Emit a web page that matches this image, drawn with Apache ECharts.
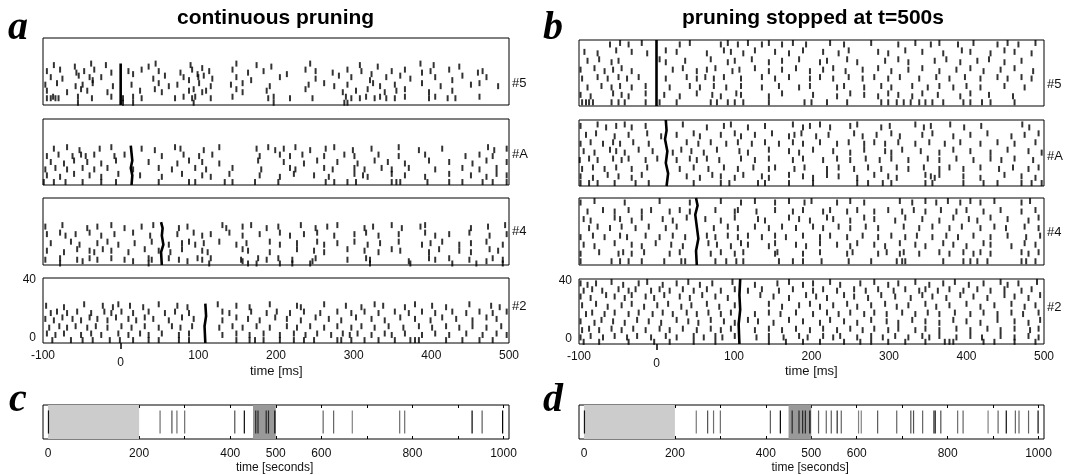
<!DOCTYPE html>
<html>
<head>
<meta charset="utf-8">
<script src="https://cdn.jsdelivr.net/npm/echarts@6/dist/echarts.min.js"></script>
<style>
  html, body { margin: 0; background: #fff; }
  #chart { width: 1065px; height: 475px; }
</style>
</head>
<body>
<div id="chart"></div>
<script>
// ---- raster data: [time (ms), trial] ----
const spikesA5 = [
  [-86,23],[-59,22],[-38,24],[-19,23],[36,22],[45,24],[90,23],[105,21],[149,24],[175,23],[194,22],[244,24],[308,23],[331,22],[386,24],[403,23],[436,22],
  [-95,19],[-78,20],[-57,18],[-47,19],[-34,20],[-12,18],[10,19],[16,17],[27,20],[49,19],[77,18],[92,20],[99,17],[114,19],[144,20],[164,18],[184,19],[214,17],[238,20],[251,19],[273,18],[292,20],[310,19],[323,17],[349,19],[366,20],[388,18],[399,19],[423,20],[460,18],[466,19],
  [-90,15],[-75,14],[-54,16],[-40,15],[-36,13],[-25,15],[42,14],[57,16],[81,15],[88,13],[100,15],[107,16],[118,14],[149,15],[168,13],[205,15],[251,14],[281,16],[297,15],[321,13],[342,15],[360,16],[373,14],[405,15],[427,13],[440,16],[471,15],
  [-97,10],[-82,11],[-58,9],[-49,10],[-36,11],[-10,9],[14,10],[49,11],[62,9],[73,10],[101,11],[116,9],[142,10],[157,11],[192,9],[242,10],[262,11],[275,9],[292,10],[325,11],[334,9],[353,10],[388,11],[412,9],[451,10],[462,11],[486,9],
  [-95,6],[-69,5],[-51,7],[-43,6],[-17,5],[25,6],[44,7],[53,5],[88,6],[94,7],[105,5],[110,6],[149,7],[157,5],[188,6],[238,7],[286,5],[303,6],[318,7],[340,5],[355,6],[366,7],[397,5],[427,6],
  [-95,1],[-90,1],[-87,2],[-84,1],[-80,1],[-55,2],[-37,1],[-12,2],[3,1],[16,2],[27,1],[70,1],[81,2],[92,1],[96,2],[116,1],[144,2],[190,1],[197,2],[218,1],[247,1],[290,2],[297,1],[308,1],[316,2],[327,1],[334,2],[342,1],[353,1],[366,2],[397,1],[405,2],[421,1],[431,1],[462,2],
  [-55,-2],[3,-2],[16,-2],[94,-2],[197,-2],[288,-2],[292,-2]
];
const spikesAA = [
  [-86,21],[-69,22],[-53,20],[-27,21],[-12,22],[27,21],[44,20],[70,22],[77,21],[107,20],[127,22],[175,21],[190,22],[199,20],[210,21],[225,22],[244,20],[264,21],[275,22],[299,20],[323,21],[358,22],[384,20],[414,21],[473,22],[481,20],[497,21],
  [-95,16],[-80,17],[-62,16],[-51,17],[-45,16],[-34,17],[-8,16],[5,17],[53,16],[81,17],[101,16],[118,17],[179,16],[205,17],[218,16],[234,17],[262,16],[288,17],[301,16],[332,17],[358,16],[392,17],[444,16],[462,17],[479,16],
  [-90,12],[-73,11],[-60,13],[-43,12],[-25,11],[-6,13],[36,12],[73,11],[88,13],[105,12],[127,11],[177,13],[210,12],[236,11],[253,13],[279,12],[305,11],[327,13],[344,12],[366,11],[397,13],[423,12],[453,11],[471,13],[497,12],
  [-97,7],[-84,8],[-69,7],[-49,8],[-34,7],[-17,8],[16,7],[49,8],[66,7],[96,8],[110,7],[144,8],[181,7],[218,8],[225,7],[262,8],[273,7],[301,8],[314,7],[336,8],[349,7],[371,8],[405,7],[440,8],[462,7],[484,8],
  [-95,3],[-78,2],[-60,4],[-40,3],[-25,2],[-3,4],[25,3],[53,2],[79,4],[105,3],[116,2],[140,4],[179,3],[205,2],[223,4],[249,3],[268,2],[301,4],[312,3],[318,2],[349,4],[366,3],[392,2],[423,4],[451,3],[471,2],[484,4],[497,3],
  [-99,-1.5],[-86,-1.5],[-71,-1.5],[-49,-1.5],[-25,-1.5],[-6,-1.5],[49,-1.5],[88,-1.5],[96,-1.5],[134,-1.5],[144,-1.5],[173,-1.5],[203,-1.5],[264,-1.5],[275,-1.5],[292,-1.5],[303,-1.5],[349,-1.5],[355,-1.5],[360,-1.5],[395,-1.5],[423,-1.5],[440,-1.5],[466,-1.5],[479,-1.5],[497,-1.5]
];
const spikesA4 = [
  [-97,22],[-75,23],[-43,21],[-30,22],[-12,23],[5,21],[27,22],[42,23],[75,21],[86,22],[131,23],[136,21],[157,22],[168,23],[188,21],[203,22],[232,23],[251,21],[266,22],[279,23],[314,21],[325,22],[349,23],[362,21],[386,22],[392,23],[451,21],[473,22],[495,23],
  [-95,17],[-78,18],[-71,16],[-58,17],[-40,18],[-25,16],[-8,17],[16,18],[38,16],[73,17],[94,18],[105,16],[116,17],[140,18],[157,16],[179,17],[205,18],[218,16],[236,17],[253,18],[275,16],[301,17],[316,18],[332,16],[358,17],[392,18],[405,16],[423,17],[449,18],[475,16],[497,17],
  [-90,11],[-64,12],[-53,10],[-30,11],[-17,12],[-3,10],[18,11],[40,12],[62,10],[79,11],[88,12],[96,10],[107,11],[127,12],[149,10],[162,11],[192,12],[205,10],[227,11],[253,12],[262,10],[279,11],[301,12],[318,10],[334,11],[358,12],[388,10],[399,11],[414,12],[436,10],[451,11],[471,12],[492,10],
  [-95,6],[-73,5],[-56,7],[-40,6],[-34,5],[-23,7],[-12,6],[10,5],[31,7],[49,6],[64,5],[79,7],[105,6],[112,5],[157,7],[164,6],[192,5],[227,7],[249,6],[262,5],[292,7],[314,6],[332,5],[349,7],[360,6],[397,5],[410,7],[436,6],[451,5],[475,7],[486,6],
  [-97,0],[-78,1],[-56,0],[-49,-1],[-40,1],[-30,0],[-12,1],[5,0],[16,-1],[36,1],[40,0],[62,1],[75,0],[86,-1],[99,1],[105,0],[116,1],[155,0],[157,-1],[177,1],[188,0],[203,1],[221,0],[247,-1],[251,1],[292,0],[316,1],[321,0],[371,-1],[397,1],[405,0],[423,1],[449,0],[471,-1],[479,1],[492,0],
  [-78,-2.5],[36,-2.5],[114,-2.5],[164,-2.5],[175,-2.5],[205,-2.5],[221,-2.5],[244,-2.5],[321,-2.5],[373,-2.5],[427,-2.5],[458,-2.5],[492,-2.5]
];
const spikesA2 = [
  [-96,22],[-73,21],[-47,23],[-23,22],[-10,21],[-3,23],[12,22],[29,21],[49,23],[73,22],[86,21],[125,23],[149,22],[166,21],[192,23],[227,22],[232,21],[262,23],[290,22],[310,21],[327,23],[338,22],[366,21],[379,23],[401,22],[419,21],[449,23],[477,22],[488,21],
  [-90,17],[-82,18],[-69,17],[-56,18],[-38,17],[-21,18],[-12,17],[1,18],[16,17],[36,18],[57,17],[70,18],[88,17],[131,18],[140,17],[168,18],[188,17],[201,18],[218,17],[236,18],[257,17],[279,18],[297,17],[314,18],[332,17],[353,18],[371,17],[388,18],[405,17],[427,18],[445,17],[462,18],[479,17],[497,18],
  [-97,13],[-86,12],[-75,14],[-62,13],[-51,12],[-40,14],[-30,13],[-17,12],[-6,14],[10,13],[20,12],[31,14],[42,13],[62,12],[79,14],[94,13],[131,12],[149,14],[164,13],[179,12],[199,14],[214,13],[232,12],[251,14],[268,13],[284,12],[303,14],[323,13],[340,12],[360,14],[379,13],[399,12],[414,14],[432,13],[453,12],[471,14],[484,13],
  [-92,7],[-79,8],[-69,7],[-58,8],[-43,7],[-32,8],[-17,7],[1,8],[14,7],[31,8],[49,7],[66,8],[77,7],[92,8],[127,7],[144,8],[157,7],[175,8],[192,7],[214,8],[227,7],[244,8],[262,7],[279,8],[297,7],[310,8],[327,7],[345,8],[364,7],[384,8],[401,7],[419,8],[436,7],[453,8],[471,7],[490,8],
  [-95,3],[-84,2],[-73,3],[-51,2],[-38,3],[-25,2],[-3,3],[10,2],[25,3],[36,2],[53,3],[75,2],[88,3],[131,2],[149,3],[166,2],[184,3],[205,2],[223,3],[238,2],[253,3],[271,2],[286,3],[295,2],[305,3],[323,2],[340,3],[349,2],[366,3],[388,2],[405,3],[423,2],[445,3],[466,2],[484,3],[497,2],
  [-88,-1.5],[-64,-1.5],[-49,-1.5],[-36,-1.5],[-14,-1.5],[-1,-1.5],[16,-1.5],[36,-1.5],[49,-1.5],[75,-1.5],[88,-1.5],[149,-1.5],[166,-1.5],[173,-1.5],[184,-1.5],[205,-1.5],[223,-1.5],[236,-1.5],[249,-1.5],[279,-1.5],[284,-1.5],[297,-1.5],[314,-1.5],[332,-1.5],[353,-1.5],[373,-1.5],[379,-1.5],[384,-1.5],[419,-1.5],[440,-1.5],[462,-1.5],[479,-1.5]
];
const spikesB5 = [
  [-60,38],[-47,39],[-36,38],[-19,39],[30,38],[43,39],[83,38],[92,39],[105,38],[118,39],[136,38],[145,39],[162,38],[176,39],[193,38],[224,39],[242,38],[277,39],[312,38],[334,39],[354,38],[365,39],[389,38],[409,39],[440,38],[453,39],[467,38],[489,39],
  [-93,33],[-76,32],[-52,34],[-32,33],[-12,32],[12,34],[26,33],[65,32],[87,34],[96,33],[112,32],[127,34],[153,33],[171,32],[189,34],[215,33],[235,32],[248,34],[286,33],[299,32],[321,34],[343,33],[370,32],[394,34],[405,33],[431,32],[449,34],[462,33],[484,32],
  [-89,27],[-74,28],[-58,26],[-49,27],[4,28],[12,26],[37,27],[70,28],[92,26],[101,27],[123,28],[145,26],[162,27],[184,28],[211,26],[220,27],[246,28],[259,26],[295,27],[312,28],[325,26],[359,27],[374,28],[392,26],[414,27],[429,28],[449,26],[471,27],
  [-98,21],[-80,22],[-67,20],[-56,21],[-45,22],[-32,20],[21,21],[34,22],[52,20],[65,21],[76,22],[98,20],[107,21],[127,22],[145,20],[162,21],[180,22],[198,20],[215,21],[228,22],[244,20],[266,21],[286,22],[303,20],[325,21],[343,22],[365,20],[387,21],[405,22],[422,20],[444,21],[462,22],[486,20],
  [-96,15],[-76,16],[-63,15],[-49,16],[-38,15],[-23,16],[12,15],[39,16],[52,15],[63,16],[74,15],[87,16],[109,15],[136,16],[153,15],[171,16],[198,15],[211,16],[228,15],[248,16],[266,15],[281,16],[299,15],[314,16],[339,15],[361,16],[378,15],[398,16],[418,15],[440,16],[453,15],[471,16],[484,15],
  [-89,9],[-71,10],[-58,9],[-47,10],[-32,9],[-14,10],[17,9],[43,10],[56,9],[74,10],[90,9],[109,10],[136,9],[158,10],[184,9],[198,10],[233,9],[242,10],[268,9],[290,10],[303,9],[330,10],[350,9],[365,10],[383,9],[400,10],[418,9],[449,10],[475,9],
  [-98,4],[-85,3],[-56,5],[-45,4],[-36,3],[-14,5],[10,4],[30,3],[52,5],[72,4],[83,3],[103,5],[109,4],[145,3],[162,5],[202,4],[233,3],[250,5],[268,4],[286,3],[299,5],[312,4],[330,3],[343,5],[363,4],[392,3],[405,5],[429,4],[460,3],
  [-96,-1],[-91,-1],[-87,-1],[-82,-1],[-58,-1],[-49,-1],[-41,-1],[-14,-1],[4,-1],[26,-1],[70,-1],[78,-1],[92,-1],[101,-1],[112,-1],[145,-1],[191,-1],[200,-1],[220,-1],[246,-1],[290,-1],[299,-1],[310,-1],[319,-1],[328,-1],[339,-1],[347,-1],[356,-1],[370,-1],[396,-1],[405,-1],[420,-1],[431,-1],[462,-1]
];
const spikesBA = [
  [-98,37],[-76,38],[-65,36],[-52,37],[-41,38],[-32,36],[-14,37],[34,38],[65,36],[87,37],[96,38],[118,36],[140,37],[176,38],[189,36],[198,37],[211,38],[224,36],[250,37],[259,38],[290,36],[301,37],[334,38],[345,36],[354,37],[379,38],[397,36],[419,37],[472,38],[481,36],
  [-91,31],[-78,32],[-54,30],[-36,31],[-12,32],[6,30],[26,31],[48,32],[56,30],[83,31],[101,32],[109,30],[127,31],[149,32],[171,30],[178,31],[187,32],[206,30],[222,31],[255,32],[266,30],[284,31],[303,32],[314,30],[343,31],[356,32],[383,30],[405,31],[427,32],[458,30],[475,31],[493,32],
  [-98,25],[-85,26],[-69,25],[-56,26],[-47,25],[-30,26],[-10,25],[39,26],[54,25],[70,26],[90,25],[105,26],[123,25],[140,26],[158,25],[176,26],[189,25],[211,26],[233,25],[248,26],[268,25],[281,26],[295,25],[312,26],[334,25],[352,26],[372,25],[392,26],[418,25],[440,26],[462,25],[489,26],
  [-94,20],[-80,19],[-60,21],[-52,20],[-41,19],[-23,21],[-5,20],[21,19],[32,21],[45,20],[61,19],[78,21],[107,20],[118,19],[145,21],[171,20],[184,19],[202,21],[228,20],[250,19],[268,21],[295,20],[303,19],[317,21],[341,20],[365,19],[383,21],[405,20],[431,19],[453,21],[480,20],[497,19],
  [-99,14],[-87,15],[-76,14],[-56,15],[-45,14],[-36,15],[-14,14],[1,15],[26,14],[43,15],[52,14],[65,15],[81,14],[109,15],[127,14],[145,15],[176,14],[189,15],[215,14],[233,15],[250,14],[270,15],[288,14],[303,15],[325,14],[350,15],[365,14],[387,15],[409,14],[431,15],[445,14],[462,15],[486,14],
  [-96,8],[-82,9],[-67,8],[-52,9],[-32,8],[-12,9],[30,8],[48,9],[67,8],[87,9],[105,8],[125,9],[145,8],[153,9],[178,8],[191,9],[220,8],[235,9],[255,8],[273,9],[290,8],[310,9],[325,8],[345,9],[365,8],[378,9],[396,8],[418,9],[442,8],[460,9],[480,8],[493,9],
  [-98,3],[-82,2],[-63,4],[-49,3],[-32,2],[-19,4],[39,3],[56,2],[72,4],[83,3],[101,2],[112,4],[136,3],[145,2],[171,4],[189,3],[202,2],[220,4],[235,3],[259,2],[281,4],[299,3],[310,2],[347,4],[354,3],[359,2],[365,4],[396,3],[418,2],[449,4],[471,3],[489,2],
  [-98,-1.5],[-87,-1.5],[-76,-1.5],[-54,-1.5],[-27,-1.5],[-10,-1.5],[48,-1.5],[83,-1.5],[94,-1.5],[131,-1.5],[140,-1.5],[171,-1.5],[202,-1.5],[259,-1.5],[273,-1.5],[292,-1.5],[303,-1.5],[347,-1.5],[356,-1.5],[396,-1.5],[422,-1.5],[440,-1.5],[471,-1.5],[484,-1.5],[497,-1.5]
];
const spikesB4 = [
  [-98,38],[-80,39],[-41,38],[4,39],[43,38],[83,39],[109,38],[127,39],[153,38],[171,39],[191,38],[200,39],[233,38],[250,39],[268,38],[314,39],[330,38],[347,39],[361,38],[376,39],[392,38],[405,39],[418,38],[436,39],[471,38],[482,39],
  [-89,32],[-69,33],[-54,32],[-36,33],[-19,32],[-7,33],[17,32],[30,33],[43,32],[76,33],[101,32],[105,33],[129,32],[153,33],[176,32],[189,33],[215,32],[224,33],[246,32],[259,33],[281,32],[299,33],[317,32],[332,33],[347,32],[367,33],[387,32],[400,33],[422,32],[444,33],[471,32],[489,33],
  [-94,27],[-85,26],[-54,28],[-47,27],[-32,26],[-19,28],[8,27],[21,26],[39,28],[63,27],[83,26],[101,28],[131,27],[140,26],[171,28],[184,27],[198,26],[220,28],[228,27],[250,26],[268,28],[281,27],[308,26],[321,28],[343,27],[365,26],[383,28],[403,27],[414,26],[431,28],[453,27],[480,26],[493,28],
  [-87,21],[-76,22],[-60,21],[-45,22],[-27,21],[-10,22],[12,21],[26,22],[74,21],[92,22],[105,21],[127,22],[145,21],[162,22],[180,21],[202,22],[215,21],[235,22],[250,21],[270,22],[286,21],[319,22],[339,21],[356,22],[378,21],[394,22],[418,21],[436,22],[451,21],[475,22],[493,21],
  [-98,15],[-82,16],[-67,15],[-47,16],[-38,15],[-14,16],[4,15],[21,16],[37,15],[65,16],[76,15],[92,16],[105,15],[118,16],[136,15],[153,16],[167,15],[189,16],[211,15],[224,16],[246,15],[266,16],[286,15],[303,16],[321,15],[336,16],[356,15],[374,16],[389,15],[409,16],[431,15],[453,16],[477,15],[495,16],
  [-94,10],[-80,9],[-54,11],[-32,10],[-19,9],[-1,11],[19,10],[34,9],[67,11],[78,10],[96,9],[109,11],[118,10],[145,9],[153,11],[180,10],[193,9],[211,11],[233,10],[250,9],[259,11],[281,10],[295,9],[314,11],[334,10],[347,9],[370,11],[383,10],[400,9],[422,11],[431,10],[458,9],[475,11],[489,10],
  [-98,4],[-74,5],[-49,4],[-43,5],[-32,4],[-16,5],[17,4],[30,5],[70,4],[83,5],[101,4],[112,5],[153,4],[156,5],[189,4],[211,5],[246,4],[253,5],[286,4],[297,5],[314,4],[319,5],[339,4],[365,5],[378,4],[396,5],[409,4],[418,5],[431,4],[471,5],[480,4],[493,5],
  [-98,-1],[-58,-1],[-47,-1],[-36,-1],[-19,-1],[10,-1],[32,-1],[37,-1],[76,-1],[90,-1],[103,-1],[112,-1],[158,-1],[176,-1],[189,-1],[213,-1],[248,-1],[277,-1],[310,-1],[317,-1],[321,-1],[370,-1],[396,-1],[405,-1],[414,-1],[427,-1],[471,-1],[477,-1],[489,-1]
];
const spikesB2 = [
  [-98,38],[-89,37],[-78,38],[-58,39],[-43,37],[-23,38],[-12,39],[8,37],[26,38],[41,39],[56,37],[72,38],[98,39],[127,37],[156,38],[171,39],[189,37],[202,38],[224,39],[237,37],[263,38],[281,39],[299,37],[312,38],[334,39],[352,37],[370,38],[385,39],[403,37],[422,38],[444,39],[453,37],[467,38],[491,39],
  [-94,33],[-83,34],[-70,33],[-49,34],[-36,33],[-27,34],[-7,33],[4,34],[17,33],[34,34],[48,33],[65,34],[83,33],[101,34],[118,33],[136,34],[158,33],[176,34],[202,33],[215,34],[233,33],[255,34],[270,33],[286,34],[306,33],[321,34],[339,33],[347,34],[363,33],[378,34],[396,33],[414,34],[431,33],[449,34],[471,33],[484,34],
  [-98,29],[-85,28],[-65,30],[-54,29],[-41,28],[-32,30],[-14,29],[-3,28],[10,30],[30,29],[43,28],[59,30],[76,29],[92,28],[134,30],[151,29],[171,28],[193,30],[206,29],[220,28],[242,30],[255,29],[273,28],[290,30],[308,29],[328,28],[343,30],[356,29],[374,28],[392,30],[409,29],[427,28],[449,30],[462,29],[480,28],[495,30],
  [-96,23],[-78,24],[-63,22],[-45,23],[-32,24],[-16,22],[1,23],[15,24],[32,22],[45,23],[65,24],[81,22],[101,23],[145,24],[162,22],[184,23],[198,24],[211,22],[228,23],[246,24],[259,22],[277,23],[295,24],[310,22],[325,23],[347,24],[361,22],[378,23],[400,24],[418,22],[436,23],[458,24],[475,22],[489,23],
  [-91,17],[-83,18],[-67,17],[-54,18],[-36,17],[-23,18],[-5,17],[8,18],[21,17],[39,18],[52,17],[67,18],[83,17],[96,18],[127,17],[145,18],[160,17],[180,18],[202,17],[220,18],[235,17],[250,18],[268,17],[281,18],[297,17],[317,18],[334,17],[350,18],[365,17],[385,18],[405,17],[422,18],[440,17],[458,18],[473,17],[493,18],
  [-98,12],[-80,11],[-71,13],[-56,12],[-41,11],[-25,13],[-10,12],[6,11],[26,13],[41,12],[54,11],[70,13],[87,12],[101,11],[118,13],[131,12],[151,11],[171,13],[189,12],[211,11],[224,13],[242,12],[259,11],[277,13],[297,12],[312,11],[330,13],[347,12],[365,11],[383,13],[400,12],[418,11],[440,13],[462,12],[480,11],[495,13],
  [-96,6],[-87,7],[-74,6],[-58,7],[-45,6],[-30,7],[-14,6],[4,7],[17,6],[34,7],[52,6],[70,7],[83,6],[96,7],[127,6],[145,7],[162,6],[180,7],[198,6],[215,7],[233,6],[250,7],[266,6],[281,7],[299,6],[312,7],[334,6],[347,7],[365,6],[387,7],[405,6],[427,7],[444,6],[462,7],[482,6],[493,7],
  [-98,1],[-85,2],[-69,1],[-54,2],[-38,1],[-25,2],[-7,1],[12,2],[26,1],[48,2],[61,1],[76,2],[85,1],[101,2],[129,1],[145,2],[164,1],[184,2],[195,1],[215,2],[228,1],[237,2],[259,1],[277,2],[292,1],[308,2],[325,1],[343,2],[352,1],[365,2],[387,1],[405,2],[420,1],[444,2],[462,1],[480,2],[493,1],
  [-94,-2],[-74,-2],[-36,-2],[-3,-2],[17,-2],[48,-2],[76,-2],[145,-2],[167,-2],[189,-2],[211,-2],[242,-2],[263,-2],[277,-2],[299,-2],[321,-2],[347,-2],[372,-2],[378,-2],[383,-2],[422,-2],[436,-2],[462,-2],[489,-2]
];

// synchronous bursts (time, trial) traced along the dark column
const burstA5 = [[0,-3.5],[0,24]];
const burstAA = [[14,-3.5],[15,3],[13,8],[15,13],[14,18],[13,23]];
const burstA4 = [[53,-3.5],[52,5],[55,10],[53,16],[54,21],[52,25]];
const burstA2 = [[109,-3.5],[108,8],[110,15],[109,23.5]];
const burstB5 = [[0,-3.5],[0,41]];
const burstBA = [[13,-3.5],[15,5],[12,12],[14,20],[11,28],[13,34],[12,41]];
const burstB4 = [[52,-3.5],[51,6],[54,14],[52,22],[50,30],[53,36],[51,41]];
const burstB2 = [[107,-3.5],[106,10],[108,20],[107,30],[108,41]];

// session events (seconds) and their grey level (1 = black)
const cTimes   = [1, 246, 272, 283, 300, 410, 431, 456, 461, 479, 484, 498, 604, 627, 668, 772, 783, 931, 953, 998];
const cWeights = [0.9, 0.45, 0.6, 0.45, 0.45, 0.6, 0.95, 0.8, 0.8, 0.8, 0.8, 1, 0.5, 0.5, 0.35, 0.45, 0.45, 1, 0.55, 1];
const dTimes   = [1, 247, 272, 285, 300, 410, 432, 458, 473, 481, 487, 497, 516, 533, 544, 557, 566, 604, 610, 646, 688, 719, 725, 745, 770, 773, 785, 822, 834, 889, 911, 929, 949, 957, 978, 999];
const dWeights = [0.9, 0.4, 0.6, 0.45, 0.45, 0.55, 1, 0.8, 0.8, 0.8, 0.8, 1, 0.5, 0.5, 0.55, 0.8, 0.5, 0.35, 0.35, 0.55, 0.5, 0.6, 0.6, 0.5, 0.9, 0.7, 0.6, 0.45, 0.5, 0.35, 0.5, 0.95, 0.5, 0.5, 0.5, 0.95];
const pruneWindow = [0, 200];
const probeWindow = [450, 500];

const msTicks = [-100, 0, 100, 200, 300, 400, 500];
const trialTicks = [0, 40];
const secTicks = [0, 100, 200, 300, 400, 500, 600, 700, 800, 900, 1000];
const secLabels = [0, 200, 400, 500, 600, 800, 1000];

const chart = echarts.init(document.getElementById('chart'));
const FONT = 'Liberation Sans';
const LETTER = 'italic bold 40px Liberation Serif';
const grids = [], xAxes = [], yAxes = [], series = [], graphics = [];
const plain = v => String(v);

const panels = [
  {spikes: spikesA5, burst: burstA5, tag: '#5', tagY: 84,  left: 43, top: 38,  width: 466, height: 67},
  {spikes: spikesAA, burst: burstAA, tag: '#A', tagY: 155, left: 43, top: 119, width: 466, height: 66},
  {spikes: spikesA4, burst: burstA4, tag: '#4', tagY: 232, left: 43, top: 198, width: 466, height: 67},
  {spikes: spikesA2, burst: burstA2, tag: '#2', tagY: 307, left: 43, top: 278, width: 466, height: 65, bottom: true},
  {spikes: spikesB5, burst: burstB5, tag: '#5', tagY: 85,  left: 579, top: 40,  width: 465, height: 66},
  {spikes: spikesBA, burst: burstBA, tag: '#A', tagY: 157, left: 579, top: 120, width: 465, height: 66},
  {spikes: spikesB4, burst: burstB4, tag: '#4', tagY: 233, left: 579, top: 198, width: 465, height: 67},
  {spikes: spikesB2, burst: burstB2, tag: '#2', tagY: 308, left: 579, top: 279, width: 465, height: 65, bottom: true}
];

panels.forEach(function (p) {
  const gi = grids.length;
  grids.push({left: p.left, top: p.top, width: p.width, height: p.height,
    show: true, borderColor: '#000', borderWidth: 1});
  const xi = xAxes.length;
  xAxes.push({
    gridIndex: gi, type: 'value', position: 'bottom', min: -100, max: 500, interval: 100,
    axisLine: {show: false}, axisTick: {show: false}, splitLine: {show: false},
    axisLabel: p.bottom ? {
      show: true, margin: 7, fontFamily: FONT, fontSize: 12, color: '#111', formatter: plain,
      customValues: msTicks.filter(v => v !== 0)
    } : {show: false}
  });
  if (p.bottom) {
    // the zero mark sits lower, with a small tick under it
    xAxes.push({
      gridIndex: gi, type: 'value', position: 'bottom', min: -100, max: 500,
      axisLine: {show: false}, splitLine: {show: false},
      axisTick: {show: true, inside: false, length: 6, customValues: [0], lineStyle: {color: '#000', width: 1.5}},
      axisLabel: {show: true, margin: 14, fontFamily: FONT, fontSize: 12, color: '#111', customValues: [0], formatter: plain}
    });
  }
  const yi = yAxes.length;
  yAxes.push({
    gridIndex: gi, type: 'value', min: -3.5, max: 41,
    axisLine: {show: false}, axisTick: {show: false}, splitLine: {show: false},
    axisLabel: p.bottom ? {show: true, margin: 7, fontFamily: FONT, fontSize: 12, color: '#111', customValues: trialTicks, formatter: plain} : {show: false}
  });
  series.push({
    type: 'scatter', xAxisIndex: xi, yAxisIndex: yi, data: p.spikes,
    symbol: 'rect', symbolSize: [2, 6], itemStyle: {color: '#000'}, silent: true, clip: true
  });
  series.push({
    type: 'line', xAxisIndex: xi, yAxisIndex: yi, data: p.burst, showSymbol: false,
    lineStyle: {color: '#000', width: 2.6}, silent: true, clip: true
  });
  graphics.push({type: 'text', left: p.left + p.width + 3, top: p.tagY - 7,
    style: {text: p.tag, font: '13px ' + FONT, fill: '#111'}});
});

function shade(w) {
  const g = Math.round(200 * (1 - w));
  return 'rgb(' + g + ',' + g + ',' + g + ')';
}

[{times: cTimes, weights: cWeights, left: 43, width: 466},
 {times: dTimes, weights: dWeights, left: 579, width: 465}].forEach(function (s) {
  const gi = grids.length;
  grids.push({left: s.left, top: 405, width: s.width, height: 34, show: true, borderColor: '#000', borderWidth: 1});
  const xi = xAxes.length;
  xAxes.push({
    gridIndex: gi, type: 'value', position: 'bottom', min: -11, max: 1012,
    axisLine: {show: false}, splitLine: {show: false},
    axisTick: {show: true, inside: true, length: 3, customValues: secTicks, lineStyle: {color: '#000'}},
    axisLabel: {show: true, margin: 9, fontFamily: FONT, fontSize: 12, color: '#111', customValues: secLabels, formatter: plain}
  });
  xAxes.push({
    gridIndex: gi, type: 'value', position: 'top', min: -11, max: 1012,
    axisLine: {show: false}, splitLine: {show: false}, axisLabel: {show: false},
    axisTick: {show: true, inside: true, length: 3, customValues: secTicks, lineStyle: {color: '#000'}}
  });
  const yi = yAxes.length;
  yAxes.push({gridIndex: gi, type: 'value', min: 0, max: 1, show: false});
  series.push({
    type: 'line', xAxisIndex: xi, yAxisIndex: yi, data: [], silent: true, z: 1,
    markArea: {silent: true, data: [
      [{xAxis: pruneWindow[0], itemStyle: {color: '#cccccc'}}, {xAxis: pruneWindow[1]}],
      [{xAxis: probeWindow[0], itemStyle: {color: '#999999'}}, {xAxis: probeWindow[1]}]
    ]}
  });
  series.push({
    type: 'custom', xAxisIndex: xi, yAxisIndex: yi, z: 3, silent: true,
    data: s.times.map((t, i) => [t, s.weights[i]]),
    renderItem: function (params, api) {
      const x = api.coord([api.value(0), 0])[0];
      const y1 = api.coord([0, 0.84])[1];
      const y2 = api.coord([0, 0.16])[1];
      return {type: 'line', shape: {x1: x, y1: y1, x2: x, y2: y2},
        style: {stroke: shade(api.value(1)), lineWidth: 1.2}};
    }
  });
  graphics.push({type: 'text', left: s.left + s.width / 2 - 40, top: 462,
    style: {text: 'time [seconds]', font: '12px ' + FONT, fill: '#111'}});
});

graphics.push(
  {type: 'text', left: 250, top: 365, style: {text: 'time [ms]', font: '13px ' + FONT, fill: '#111'}},
  {type: 'text', left: 785, top: 365, style: {text: 'time [ms]', font: '13px ' + FONT, fill: '#111'}},
  {type: 'text', left: 177, top: 8, style: {text: 'continuous pruning', font: 'bold 21px ' + FONT, fill: '#000'}},
  {type: 'text', left: 682, top: 8, style: {text: 'pruning stopped at t=500s', font: 'bold 21px ' + FONT, fill: '#000'}},
  {type: 'text', left: 8, top: 9, style: {text: 'a', font: LETTER, fill: '#000'}},
  {type: 'text', left: 543, top: 9, style: {text: 'b', font: LETTER, fill: '#000'}},
  {type: 'text', left: 9, top: 381, style: {text: 'c', font: LETTER, fill: '#000'}},
  {type: 'text', left: 543, top: 381, style: {text: 'd', font: LETTER, fill: '#000'}}
);

chart.setOption({
  animation: false,
  backgroundColor: '#fff',
  grid: grids,
  xAxis: xAxes,
  yAxis: yAxes,
  series: series,
  graphic: graphics
});
</script>
</body>
</html>
